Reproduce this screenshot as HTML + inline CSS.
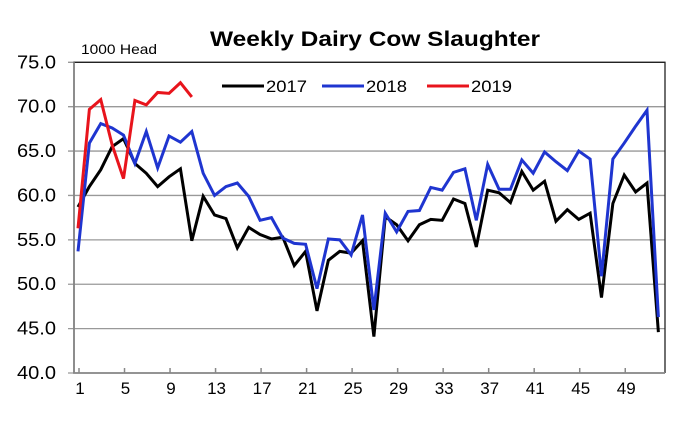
<!DOCTYPE html>
<html><head><meta charset="utf-8"><style>
body{margin:0;background:#fff;}
svg{display:block;font-family:"Liberation Sans",Arial,sans-serif;}
</style></head><body>
<svg id="c" width="682" height="430">
<text x="210" y="46" font-size="21" font-weight="bold" textLength="330" lengthAdjust="spacingAndGlyphs">Weekly Dairy Cow Slaughter</text>
<text x="81" y="54" font-size="14" textLength="76" lengthAdjust="spacingAndGlyphs">1000 Head</text>
<g id="grid"></g><g id="series"></g><g id="legend"></g>
</svg>
<script>
const weeks=[];for(let i=1;i<=52;i++)weeks.push(i);
const yTicks=[40,45,50,55,60,65,70,75];
const xTickLabels=[1,5,9,13,17,21,25,29,33,37,41,45,49];
const s2017=[58.7,61.0,62.9,65.5,66.4,63.6,62.5,61.0,62.1,63.0,54.9,59.9,57.8,57.4,54.1,56.4,55.6,55.1,55.3,52.1,53.7,47.0,52.7,53.7,53.5,54.9,44.1,57.6,56.7,54.9,56.7,57.3,57.2,59.6,59.1,54.2,60.6,60.3,59.2,62.7,60.6,61.6,57.1,58.4,57.3,58.0,48.5,59.1,62.3,60.4,61.4,44.6];
const s2018=[53.7,65.9,68.1,67.6,66.8,63.6,67.2,63.1,66.7,66.0,67.2,62.5,60.0,61.0,61.4,59.9,57.2,57.5,55.2,54.6,54.5,49.5,55.1,55.0,53.3,57.8,47.1,58.0,55.9,58.2,58.3,60.9,60.6,62.6,63.0,57.2,63.5,60.7,60.7,64.0,62.5,64.9,63.8,62.8,65.0,64.1,50.9,64.1,65.9,67.8,69.6,46.3];
const s2019=[56.3,69.7,70.8,65.7,61.9,70.7,70.2,71.6,71.5,72.7,71.1];
const seriesNames=["2017","2018","2019"];
const seriesColors=["#000","#1f35d0","#e8141c"];
const NS="http://www.w3.org/2000/svg";
const L=74,R=665,T=62.3,B=373;
const xs=w=>78+(w-1)*11.38;
const ys=v=>B-(v-40)/35*(B-T);
function mk(tag,attrs,parent){const e=document.createElementNS(NS,tag);for(const k in attrs)e.setAttribute(k,attrs[k]);parent.appendChild(e);return e;}
const grid=document.getElementById('grid');
yTicks.forEach(v=>{
  const ln=mk('line',{x1:L-6,x2:R,y1:ys(v),y2:ys(v),stroke:'#999','stroke-width':1.3},grid);
  
  
  const t=mk('text',{x:17,y:ys(v)+6,'font-size':18,textLength:39,lengthAdjust:'spacingAndGlyphs'},grid);
  t.textContent=v.toFixed(1);
  
  
});
const fr=mk('path',{d:`M${L},${B} L${L},${T} L${R},${T} L${R},${B}`,fill:'none',stroke:'#222','stroke-width':1.3},grid);


const la=mk('path',{d:`M${L},${T} L${L},${B} L${R},${B}`,fill:'none',stroke:'#888','stroke-width':1.8},grid);


xTickLabels.forEach(w=>{
  const tk=mk('line',{x1:xs(w)+1,x2:xs(w)+1,y1:B,y2:B-5,stroke:'#888','stroke-width':1.5},grid);
  
  
  const t=mk('text',{x:xs(w)+2,y:B+21,'text-anchor':'middle','font-size':17},grid);
  t.textContent=w;
  
  
});
const sg=document.getElementById('series');
[s2017,s2018,s2019].forEach((d,i)=>{
  const p=mk('polyline',{points:d.map((v,j)=>xs(weeks[j])+','+ys(v)).join(' '),fill:'none',stroke:seriesColors[i],'stroke-width':3,'stroke-linejoin':'miter'},sg);
  
  
});
const lg=document.getElementById('legend');
const lx=[222,322,427];
seriesNames.forEach((n,i)=>{
  const ln=mk('line',{x1:lx[i],x2:lx[i]+42,y1:86,y2:86,stroke:seriesColors[i],'stroke-width':3},lg);
  
  
  const t=mk('text',{x:lx[i]+44,y:92,'font-size':17,textLength:41,lengthAdjust:'spacingAndGlyphs'},lg);
  t.textContent=n;
  
  
});
</script>
</body></html>
